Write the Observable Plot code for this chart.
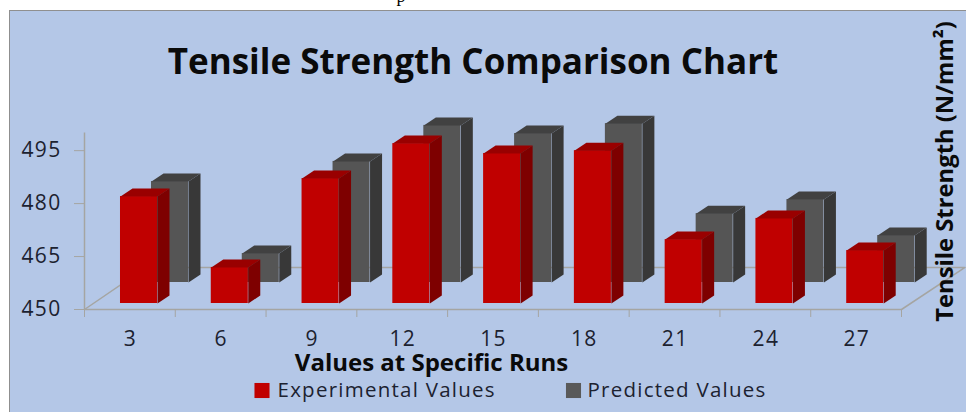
<!DOCTYPE html>
<html>
<head>
<meta charset="utf-8">
<script src="https://cdn.jsdelivr.net/npm/d3@7"></script>
<script src="https://cdn.jsdelivr.net/npm/@observablehq/plot@0.6"></script>
<style>
html,body{margin:0;padding:0;background:#fff;width:966px;height:412px;overflow:hidden}
#panel{position:absolute;left:9px;top:10px;right:0;bottom:0;background:#b4c7e7;border-left:1.5px solid #8f8f8f;border-top:1.5px solid #8f8f8f}
#chart{position:absolute;left:0;top:0}
#chart svg{background:transparent;display:block}
.wide text{letter-spacing:1.25px}
.tick text{letter-spacing:1.3px}
</style>
</head>
<body>
<div id="panel"></div>
<div id="chart"></div>
<script>
const runs = [3, 6, 9, 12, 15, 18, 21, 24, 27];
const experimental = [480.3, 460.2, 485.4, 495.3, 492.5, 493.3, 468.1, 474.1, 465];
const predicted = [478.6, 458.2, 484.3, 494.5, 492.2, 495, 469.5, 473.5, 463.3];
const yTicks = [450, 465, 480, 495];
const runEdges = [1.5, 4.5, 7.5, 10.5, 13.5, 16.5, 19.5, 22.5, 25.5, 28.5];
const floorRun = [1.5, 3.54, 30.6, 28.5];
const floorValue = [450, 461.9, 461.9, 450];

const pxX = 817 / 27;   // pixels per run unit
const pxY = 176.5 / 50; // pixels per strength unit
const W = 37 / pxX, DX = 12 / pxX, DZ = 8 / pxY;
const MARGIN_L = 84, MARGIN_T = 132.5;
const FONT = "'Open Sans', sans-serif";
const INK = "#1c2230";
const GRID = "#a5a5a2";

function box(run, value, offset) {
  const l = run + offset, r = l + W;
  const base = 450;
  return {
    front: {l, r, base, value},
    side: [[r, base], [r + DX, base + DZ], [r + DX, value + DZ], [r, value]].map(([x, y]) => ({x, y, id: `s${run}`})),
    top: [[l, value], [r, value], [r + DX, value + DZ], [l + DX, value + DZ]].map(([x, y]) => ({x, y, id: `t${run}`}))
  };
}
function boxMarks(values, offset, dy, c) {
  const boxes = runs.map((run, i) => box(run, values[i], offset));
  return [
    Plot.rect(boxes.map(b => b.front), {x1: "l", x2: "r", y1: "base", y2: "value", fill: c[0], dy, inset: 0}),
    Plot.line(boxes.flatMap(b => [...b.side, b.side[0]]), {x: "x", y: "y", z: "id", fill: c[1], stroke: null, dy}),
    Plot.line(boxes.flatMap(b => [...b.top, b.top[0]]), {x: "x", y: "y", z: "id", fill: c[2], stroke: null, dy})
  ];
}
function note(label, px, py, o = {}) {
  return Plot.text([label], {
    text: d => d, frameAnchor: "top-left", dx: px - MARGIN_L, dy: py - MARGIN_T,
    fontFamily: FONT, fill: INK, lineAnchor: "middle", ...o
  });
}
function swatch(px, py, fill) {
  return Plot.dot([0], {frameAnchor: "top-left", dx: px - MARGIN_L, dy: py - MARGIN_T, symbol: "square", r: 8.5, fill, stroke: null});
}

const chart = Plot.plot({
  width: 966, height: 412,
  marginLeft: MARGIN_L, marginRight: 65, marginTop: MARGIN_T, marginBottom: 103,
  style: {background: "transparent", fontFamily: FONT},
  x: {type: "linear", domain: [1.5, 28.5], label: null},
  y: {domain: [450, 500], label: null},
  marks: [
    Plot.line(floorRun.map((x, i) => ({x, y: floorValue[i]})), {x: "x", y: "y", stroke: GRID, strokeWidth: 1.5}),
    ...boxMarks(predicted, 21.6 / pxX, -27, ["#555555", "#383838", "#414141"]),
    ...boxMarks(experimental, -9.4 / pxX, -6, ["#c00000", "#7e0000", "#990000"]),
    Plot.ruleX([1.5], {y1: 450, y2: 500, stroke: GRID, strokeWidth: 1.5}),
    Plot.ruleY([450], {x1: 1.5, x2: 28.5, stroke: GRID, strokeWidth: 1.5}),
    Plot.axisY(yTicks, {anchor: "left", tickSize: 10, tickPadding: 13, stroke: GRID, fill: INK, fontSize: 21, fontFamily: FONT, label: null, className: "tick"}),
    Plot.axisX(runEdges, {anchor: "bottom", tickSize: 8, tickFormat: () => "", stroke: GRID, label: null}),
    Plot.axisX(runs, {anchor: "bottom", tickSize: 0, tickPadding: 22, dx: 0.6, fill: INK, fontSize: 21, fontFamily: FONT, label: null, className: "tick"}),
    note("Tensile Strength Comparison Chart", 472.5, 62, {fontSize: 35, fontWeight: 700, textAnchor: "middle", fill: "#0a0a0a"}),
    note("Values at Specific Runs", 431, 363, {fontSize: 24, fontWeight: 700, textAnchor: "middle", fill: "#0a0a0a"}),
    note("Tensile Strength (N/mm²)", 945, 171, {fontSize: 23.8, fontWeight: 700, textAnchor: "middle", rotate: -90, fill: "#0a0a0a"}),
    swatch(261.5, 390, "#c00000"),
    note("Experimental Values", 277, 390, {fontSize: 20.5, textAnchor: "start", className: "wide"}),
    swatch(573, 390, "#595959"),
    note("Predicted Values", 587, 390, {fontSize: 20.5, textAnchor: "start", className: "wide"}),
    note("p", 396, -4, {fontSize: 18, textAnchor: "start", fontFamily: "'Liberation Serif', serif", fill: "#000"})
  ]
});
document.getElementById("chart").appendChild(chart);
</script>
</body>
</html>
